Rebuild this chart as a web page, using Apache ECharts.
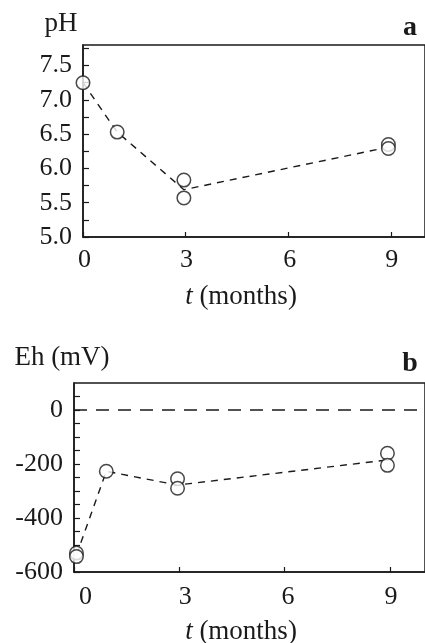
<!DOCTYPE html>
<html>
<head>
<meta charset="utf-8">
<script src="https://cdn.jsdelivr.net/npm/echarts@6/dist/echarts.min.js"></script>
<style>
html,body{margin:0;padding:0;background:#fff;}
#c{width:425px;height:643px;}
</style>
</head>
<body>
<div id="c"></div>
<script>
// ---- Data ----
const phTime = [0, 1, 2.95, 2.95, 8.93, 8.93];
const phValues = [7.25, 6.53, 5.83, 5.57, 6.35, 6.29];
const phTrendTime = [0, 1, 2.95, 8.93];
const phTrendValues = [7.25, 6.53, 5.69, 6.31];

const ehTime = [0.07, 0.07, 0.92, 2.95, 2.95, 8.93, 8.93];
const ehValues = [-530, -543, -227, -255, -290, -160, -205];
const ehTrendTime = [0.07, 0.92, 2.95, 8.93];
const ehTrendValues = [-537, -227, -278, -185];
const ehZeroLine = [[0, 0], [10, 0]];

const xTicks = [0, 3, 6, 9];

// ---- Build ----
const font = 'Liberation Serif';
const ink = '#1a1a1a';
const pairs = (xs, ys) => xs.map((x, i) => [x, ys[i]]);

const chart = echarts.init(document.getElementById('c'), null, {renderer: 'canvas'});

// label nudges (px of left padding) to mimic the reference's label placement
function xAxisCfg(gridIndex, margin, nudges) {
  const rich = {};
  xTicks.forEach((t, i) => {
    rich['o' + t] = {fontFamily: font, fontSize: 26, color: ink, padding: [0, 0, 0, nudges[i]]};
  });
  return {
    type: 'value', gridIndex, min: 0, max: 10, interval: 3,
    axisLine: {show: true, onZero: false, lineStyle: {color: ink, width: 1.5}},
    axisTick: {show: true, inside: true, length: 5, lineStyle: {color: ink, width: 1.2}},
    axisLabel: {
      show: true, margin, fontFamily: font, fontSize: 26, color: ink,
      showMaxLabel: false,
      formatter: v => (xTicks.indexOf(v) >= 0 ? '{o' + v + '|' + v + '}' : ''),
      rich
    },
    splitLine: {show: false}
  };
}

const option = {
  animation: false,
  backgroundColor: '#fff',
  grid: [
    {left: 83, top: 45, right: -2, height: 192, show: true, borderColor: ink, borderWidth: 1.5},
    {left: 74, top: 383, right: -2, height: 189, show: true, borderColor: ink, borderWidth: 1.5}
  ],
  xAxis: [xAxisCfg(0, 10, [3, 2, 3, 2]), xAxisCfg(1, 12, [23, 12, 7, 2])],
  yAxis: [
    {
      type: 'value', gridIndex: 0, min: 5, max: 7.8, interval: 0.25,
      axisLine: {show: true, onZero: false, lineStyle: {color: ink, width: 1.5}},
      axisTick: {show: true, inside: true, length: 6, lineStyle: {color: ink, width: 1.2}},
      axisLabel: {
        margin: 11, fontFamily: font, fontSize: 26, color: ink, showMaxLabel: false,
        formatter: v => (Math.abs(v * 2 - Math.round(v * 2)) < 1e-6 ? v.toFixed(1) : '')
      },
      splitLine: {show: false}
    },
    {
      type: 'value', gridIndex: 1, min: -600, max: 100, interval: 50,
      axisLine: {show: true, onZero: false, lineStyle: {color: ink, width: 1.5}},
      axisTick: {show: true, inside: true, length: 6, lineStyle: {color: ink, width: 1.2}},
      axisLabel: {
        margin: 11, fontFamily: font, fontSize: 26, color: ink, showMaxLabel: false,
        formatter: v => (v % 200 === 0 ? String(v) : '')
      },
      splitLine: {show: false}
    }
  ],
  series: [
    {
      type: 'line', xAxisIndex: 0, yAxisIndex: 0, data: pairs(phTrendTime, phTrendValues),
      symbol: 'none', lineStyle: {color: ink, width: 1.4, type: [7, 6]}, z: 2
    },
    {
      type: 'scatter', xAxisIndex: 0, yAxisIndex: 0, data: pairs(phTime, phValues),
      symbol: 'circle', symbolSize: 13.5,
      itemStyle: {color: '#fff', borderColor: ink, borderWidth: 1.5}, z: 3
    },
    {
      type: 'line', xAxisIndex: 1, yAxisIndex: 1, data: ehZeroLine,
      symbol: 'none', lineStyle: {color: ink, width: 1.5, type: [13, 9]}, z: 2
    },
    {
      type: 'line', xAxisIndex: 1, yAxisIndex: 1, data: pairs(ehTrendTime, ehTrendValues),
      symbol: 'none', lineStyle: {color: ink, width: 1.4, type: [7, 6]}, z: 2
    },
    {
      type: 'scatter', xAxisIndex: 1, yAxisIndex: 1, data: pairs(ehTime, ehValues),
      symbol: 'circle', symbolSize: 13.5,
      itemStyle: {color: '#fff', borderColor: ink, borderWidth: 1.5}, z: 3
    }
  ],
  graphic: [
    {type: 'text', x: 61, y: 24, style: {text: 'pH', font: '27px "Liberation Serif"', fill: ink, align: 'center', verticalAlign: 'middle'}},
    {type: 'text', x: 410, y: 28, style: {text: 'a', font: 'bold 28px "Liberation Serif"', fill: ink, align: 'center', verticalAlign: 'middle'}},
    {type: 'text', x: 241, y: 297, style: {
      text: '{i|t} (months)', font: '27px "Liberation Serif"', fill: ink, align: 'center', verticalAlign: 'middle',
      rich: {i: {fontStyle: 'italic', fontFamily: font, fontSize: 27, fill: ink}}
    }},
    {type: 'text', x: 62, y: 358, style: {text: 'Eh (mV)', font: '27px "Liberation Serif"', fill: ink, align: 'center', verticalAlign: 'middle'}},
    {type: 'text', x: 410, y: 364, style: {text: 'b', font: 'bold 28px "Liberation Serif"', fill: ink, align: 'center', verticalAlign: 'middle'}},
    {type: 'text', x: 241, y: 632, style: {
      text: '{i|t} (months)', font: '27px "Liberation Serif"', fill: ink, align: 'center', verticalAlign: 'middle',
      rich: {i: {fontStyle: 'italic', fontFamily: font, fontSize: 27, fill: ink}}
    }}
  ]
};
chart.setOption(option);
</script>
</body>
</html>
